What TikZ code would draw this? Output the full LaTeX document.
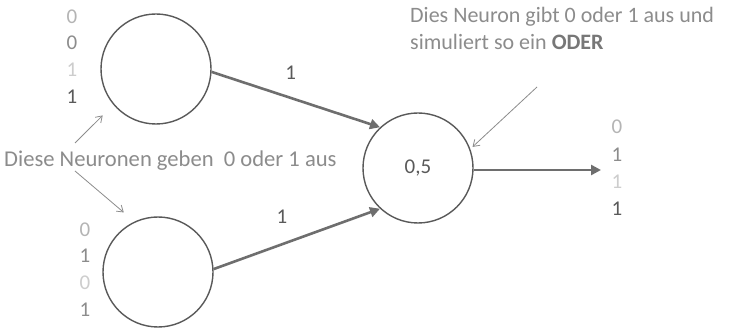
\documentclass[tikz,border=0pt]{standalone}
\usepackage{fontspec}
\setmainfont{Carlito}
\usetikzlibrary{arrows.meta}
\definecolor{circ}{HTML}{595959}
\definecolor{edge}{HTML}{6E6E6E}
\definecolor{ann}{HTML}{8C8C8C}
\definecolor{gA}{HTML}{B4B4B4}
\definecolor{gB}{HTML}{8C8C8C}
\definecolor{gC}{HTML}{CDCDCD}
\definecolor{gD}{HTML}{5A5A5A}
\begin{document}
\begin{tikzpicture}[x=1pt,y=-1pt,
  neuron/.style={circle,draw=circ,line width=1.4pt,minimum size=110pt,inner sep=0pt,font=\fontsize{21}{25}\selectfont,text=circ},
  wedge/.style={draw=edge,line width=2.6pt,-{Triangle[length=10pt,width=10pt]}},
  annarrow/.style={draw=ann,line width=0.8pt,-{Straight Barb[length=6pt,width=8pt]}},
  num/.style={font=\fontsize{21}{25}\selectfont,inner sep=0pt},
  lbl/.style={font=\fontsize{22}{27}\selectfont,inner sep=0pt}]
\path[use as bounding box,fill=white] (0,0) rectangle (729,331);
\node[neuron] (t) at (156,69) {};
\node[neuron] (b) at (158,272) {};
\node[neuron] (m) at (418,168) {0,5};
\coordinate (out) at (601,170);
% input numbers top
\node[num,text=gA] (t0) at (72,17) {0};
\node[num,text=gB] (t1) at (72,43) {0};
\node[num,text=gC] (t2) at (72,70) {1};
\node[num,text=gD] (t3) at (72,97) {1};
% input numbers bottom
\node[num,text=gA] (b0) at (85,230) {0};
\node[num,text=gB] (b1) at (85,256) {1};
\node[num,text=gC] (b2) at (85,283) {0};
\node[num,text=gB] (b3) at (85,310) {1};
% output numbers
\node[num,text=gA] (o0) at (617,127) {0};
\node[num,text=gB] (o1) at (617,155) {1};
\node[num,text=gC] (o2) at (617,182) {1};
\node[num,text=gD] (o3) at (617,209) {1};
% edges
\draw[wedge] (t.-3) -- node[pos=0.47,above=17pt,num,text=gD] (w1) {1} (m.133);
\draw[wedge] (b.3) -- node[pos=0.41,above=20pt,num,text=gD] (w2) {1} (m.227);
\draw[wedge] (m.east |- out) -- (out);
% annotations
\node[lbl,text=ann,anchor=base west,font=\fontsize{22.6}{27}\selectfont] (L) at (4,167) {Diese Neuronen geben\ \ 0 oder 1 aus};
\coordinate (La) at (75,143);
\coordinate (Lb) at (75,171);
\draw[annarrow,shorten >=15pt] (La) -- (t.-140);
\draw[annarrow,shorten >=14pt] (Lb) -- (b.115);
\node[lbl,text=ann,anchor=base west,align=left] (R) at (410,50) {Dies Neuron gibt 0 oder 1 aus und\\simuliert so ein \textbf{\textcolor{gB!85!black}{ODER}}};
\coordinate (Ra) at (537,87);
\draw[annarrow,shorten >=3pt] (Ra) -- (m.20);
\end{tikzpicture}
\end{document}
